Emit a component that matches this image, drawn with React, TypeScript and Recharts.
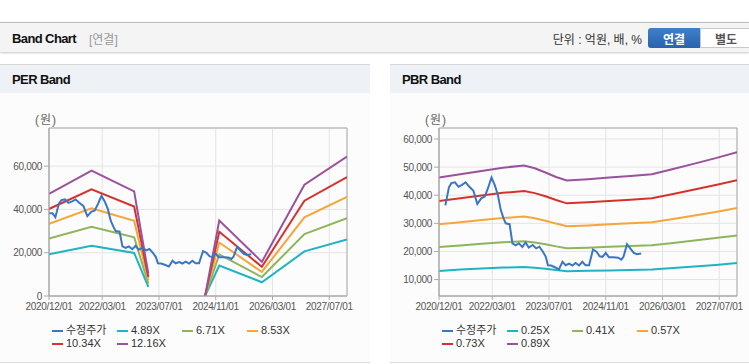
import React from 'react';
import { LineChart, Line, XAxis, YAxis, CartesianGrid, ReferenceArea } from 'recharts';

// ---- shared x axis (months since 2020/12) ----
const xTickMonths = [0, 15, 31, 47, 63, 79];
const xTickLabels = ['2020/12/01', '2022/03/01', '2023/07/01', '2024/11/01', '2026/03/01', '2027/07/01'];

// ---- adjusted price (수정주가) ----
const priceMonths = [0, 1, 1.8, 2.8, 3.5, 4.5, 5.5, 6.5, 7.5, 8.5, 9.7, 10.8, 11.9, 12.9, 13.8, 14.8, 15.7, 16.6, 17.4, 18.2, 18.8, 19.9, 20.7, 21.6, 22.5, 23.5, 24.4, 25.3, 26.4, 27.4, 28.3, 29.3, 30.1, 30.7, 31.6, 32.8, 33.8, 34.8, 35.7, 36.7, 37.6, 38.5, 39.5, 40.4, 41.3, 42.3, 43.4, 44.4, 45.3, 46.1, 47.0, 47.9, 49.1, 50.5, 51.4, 52.0, 53.0, 53.9, 54.9, 55.8, 57.0];
const priceValues = [38200, 38200, 36400, 42800, 44300, 44600, 43000, 43700, 44600, 43100, 41600, 36900, 38900, 39500, 42500, 46300, 43700, 40100, 34800, 31800, 30000, 29700, 22900, 22200, 22900, 21600, 23200, 21400, 22300, 21100, 21700, 19900, 18100, 15100, 15000, 14300, 13600, 16300, 15100, 15700, 15000, 15900, 15000, 16300, 15100, 15100, 20700, 19900, 18300, 18100, 19500, 17900, 17900, 17800, 17100, 18100, 22600, 21100, 19500, 19000, 19300];
const pbrPriceStartMonth = 1.5;

// ---- PER band ----
const perMonths = [0, 12, 24, 28, 36, 44, 48, 60, 72, 84];
const per489 = [19300, 23200, 19900, 4200, null, 0, 14100, 6350, 20600, 26150];
const per671 = [26500, 32000, 27100, 5700, null, 0, 19200, 8750, 28600, 35900];
const per853 = [33300, 40500, 34700, 7250, null, 0, 24700, 11100, 36300, 45750];
const per1034 = [40200, 49300, 41300, 8800, null, 0, 29700, 13450, 44000, 54900];
const per1216 = [47200, 57950, 48300, 10300, null, 0, 34900, 15770, 51400, 64450];
const perYTicks = [0, 20000, 40000, 60000];
const perYDomain = [0, 77600];

// ---- PBR band ----
const pbrMonths = [0, 6, 12, 18, 24, 27, 30, 33, 36, 42, 48, 54, 60, 66, 72, 78, 84];
const pbr025 = [13000, 13580, 13900, 14250, 14470, 14210, 13820, 13370, 12960, 13090, 13250, 13410, 13590, 14100, 14650, 15200, 15850];
const pbr041 = [21600, 22150, 22700, 23250, 23600, 23200, 22550, 21800, 21150, 21350, 21650, 21900, 22200, 23000, 23900, 24800, 25700];
const pbr057 = [29650, 30400, 31150, 31900, 32400, 31830, 30930, 29910, 28980, 29270, 29650, 30000, 30420, 31570, 32820, 34070, 35450];
const pbr073 = [37980, 38940, 39900, 40860, 41500, 40760, 39620, 38300, 37110, 37480, 37980, 38430, 38960, 40440, 42040, 43640, 45300];
const pbr089 = [46300, 47470, 48640, 49810, 50600, 49600, 48100, 46500, 45250, 45700, 46300, 46850, 47500, 49300, 51250, 53200, 55350];
const pbrYTicks = [10000, 20000, 30000, 40000, 50000, 60000];
const pbrYDomain = [4150, 63920];

const COLORS = {
  price: '#3b76c4',
  c1: '#1fb3c3',
  c2: '#8db65a',
  c3: '#f4a63b',
  c4: '#d6322c',
  c5: '#9a529c',
};

const zip = (ms: number[], vs: (number | null)[]) => ms.map((m, i) => ({ m, v: vs[i] }));
const priceData = zip(priceMonths, priceValues);
const pbrPriceData = priceData.filter((d) => d.m >= pbrPriceStartMonth);

const perSeries = [
  { name: '4.89X', data: zip(perMonths, per489), color: COLORS.c1 },
  { name: '6.71X', data: zip(perMonths, per671), color: COLORS.c2 },
  { name: '8.53X', data: zip(perMonths, per853), color: COLORS.c3 },
  { name: '10.34X', data: zip(perMonths, per1034), color: COLORS.c4 },
  { name: '12.16X', data: zip(perMonths, per1216), color: COLORS.c5 },
];
const pbrSeries = [
  { name: '0.25X', data: zip(pbrMonths, pbr025), color: COLORS.c1 },
  { name: '0.41X', data: zip(pbrMonths, pbr041), color: COLORS.c2 },
  { name: '0.57X', data: zip(pbrMonths, pbr057), color: COLORS.c3 },
  { name: '0.73X', data: zip(pbrMonths, pbr073), color: COLORS.c4 },
  { name: '0.89X', data: zip(pbrMonths, pbr089), color: COLORS.c5 },
];

const tickFont = { fontSize: 10, fill: '#555', fontFamily: 'Liberation Sans, Arial, sans-serif', letterSpacing: '-0.3px' };
const fmtX = (m: number) => {
  const i = xTickMonths.indexOf(m);
  return i >= 0 ? xTickLabels[i] : '';
};
const fmtY = (v: number) => v.toLocaleString('en-US');

function BandChart({ width, series, price, yDomain, yTicks }: any) {
  return (
    <LineChart width={width} height={230} margin={{ top: 28, right: width - 347, left: 0, bottom: 4 }}>
      <CartesianGrid stroke="#e4e4e4" strokeWidth={1} />
      <XAxis
        type="number"
        dataKey="m"
        domain={[0, 84]}
        ticks={xTickMonths}
        tickFormatter={fmtX}
        interval={0}
        allowDataOverflow
        height={30}
        tickSize={4}
        tickLine={{ stroke: '#aaa' }}
        axisLine={{ stroke: '#aaa' }}
        tick={tickFont}
        tickMargin={3}
      />
      <YAxis
        type="number"
        domain={yDomain}
        ticks={yTicks}
        tickFormatter={fmtY}
        interval={0}
        allowDataOverflow
        width={49}
        tickSize={5}
        tickLine={{ stroke: '#aaa' }}
        axisLine={{ stroke: '#aaa' }}
        tick={tickFont}
        tickMargin={2}
      />
      <ReferenceArea x1={0} x2={84} y1={yDomain[0]} y2={yDomain[1]} fill="none" stroke="#aaa" strokeWidth={1} />
      {series.map((s: any) => (
        <Line
          key={s.name}
          data={s.data}
          dataKey="v"
          type="linear"
          stroke={s.color}
          strokeWidth={2}
          dot={false}
          activeDot={false}
          isAnimationActive={false}
          connectNulls={false}
        />
      ))}
      <Line
        data={price}
        dataKey="v"
        type="linear"
        stroke={COLORS.price}
        strokeWidth={2}
        dot={false}
        activeDot={false}
        isAnimationActive={false}
      />
    </LineChart>
  );
}

function LegendBox({ items }: { items: { name: string; color: string }[] }) {
  return (
    <div style={{ display: 'flex', flexWrap: 'wrap', width: 265 }}>
      {items.map((it) => (
        <div key={it.name} style={{ width: 65, height: 13, display: 'flex', alignItems: 'center', fontSize: 11, color: '#333', fontFamily: 'Liberation Sans, Arial, "Noto Sans CJK KR", sans-serif', lineHeight: '13px' }}>
          <span style={{ display: 'inline-block', width: 11, height: 2, background: it.color, marginRight: 3 }} />
          <span>{it.name}</span>
        </div>
      ))}
    </div>
  );
}

const labelFont = 'Liberation Sans, Arial, "Noto Sans CJK KR", sans-serif';

function Panel({ left, width, title, series, price, yDomain, yTicks }: any) {
  const legendItems = [{ name: '수정주가', color: COLORS.price }, ...series.map((s: any) => ({ name: s.name, color: s.color }))];
  return (
    <div style={{ position: 'absolute', left, top: 64, width, height: 299, background: '#fcfcfc', borderTop: '1px solid #d6d6d6', borderBottom: '1px solid #dcdcdc', boxSizing: 'border-box' }}>
      <div style={{ height: 28, background: '#eef1f6', display: 'flex', alignItems: 'center', paddingLeft: 12, fontFamily: labelFont, fontWeight: 'bold', fontSize: 13, color: '#111', letterSpacing: '-0.6px' }}>{title}</div>
      <div style={{ position: 'absolute', left: 35, top: 45, fontSize: 12, color: '#666', fontFamily: labelFont, letterSpacing: '1px' }}>(원)</div>
      <div style={{ position: 'absolute', left: 0, top: 35 }}>
        <BandChart width={width} series={series} price={price} yDomain={yDomain} yTicks={yTicks} />
      </div>
      <div style={{ position: 'absolute', left: 52, top: 259 }}>
        <LegendBox items={legendItems} />
      </div>
    </div>
  );
}

export default function App() {
  return (
    <div style={{ position: 'fixed', left: 0, top: 0, width: 749, height: 364, background: '#fff', overflow: 'hidden', fontFamily: labelFont }}>
      <div style={{ position: 'absolute', left: 0, top: 22, width: 749, height: 30, background: '#f4f4f4', borderTop: '1px solid #bdbdbd', boxShadow: '0 1px 2px rgba(0,0,0,0.22)', boxSizing: 'border-box' }}>
        <div style={{ position: 'absolute', left: 12, top: 0, height: 30, display: 'flex', alignItems: 'center', fontWeight: 'bold', fontSize: 13, color: '#111', letterSpacing: '-0.6px' }}>Band Chart</div>
        <div style={{ position: 'absolute', left: 89, top: 0, height: 30, display: 'flex', alignItems: 'center', fontSize: 12, color: '#999' }}>[연결]</div>
        <div style={{ position: 'absolute', right: 107, top: 0, height: 30, display: 'flex', alignItems: 'center', fontSize: 12, color: '#333' }}>단위 : 억원, 배, %</div>
        <div style={{ position: 'absolute', left: 648, top: 5, width: 52, height: 20, background: 'linear-gradient(#3f80cc, #2a63a9)', borderRadius: '3px 0 0 3px', color: '#fff', fontWeight: 'bold', fontSize: 12, display: 'flex', alignItems: 'center', justifyContent: 'center' }}>연결</div>
        <div style={{ position: 'absolute', left: 700, top: 5, width: 52, height: 20, background: '#fff', border: '1px solid #c8c8c8', boxSizing: 'border-box', borderRadius: '0 3px 3px 0', color: '#555', fontWeight: 'bold', fontSize: 12, display: 'flex', alignItems: 'center', justifyContent: 'center' }}>별도</div>
      </div>
      <Panel left={0} width={370} title="PER Band" series={perSeries} price={priceData} yDomain={perYDomain} yTicks={perYTicks} />
      <Panel left={390} width={359} title="PBR Band" series={pbrSeries} price={pbrPriceData} yDomain={pbrYDomain} yTicks={pbrYTicks} />
    </div>
  );
}
